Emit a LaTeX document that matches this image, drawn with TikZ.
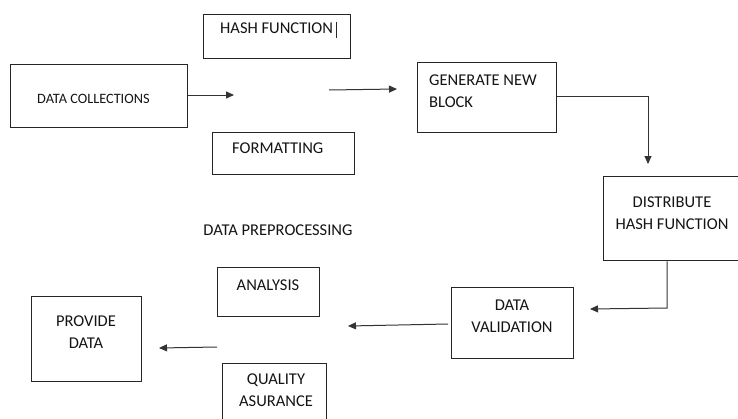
\documentclass[tikz,border=0pt]{standalone}
\usepackage{fontspec}
\setmainfont{Carlito}
\usetikzlibrary{arrows.meta}
\begin{document}
\begin{tikzpicture}[x=1pt,y=-1pt,
  box/.style={draw=black!85, line width=1.4pt, inner sep=0pt, anchor=north west},
  txt/.style={font=\fontsize{16.5}{21.5}\selectfont, text=black!92, inner sep=0pt, align=center},
  conn/.style={draw=black!80, line width=1pt},
  arr/.style={conn, -{Triangle[length=8pt,width=7pt]}}]
\useasboundingbox (0,0) rectangle (738,418);
\clip (0,0) rectangle (738,418);

% boxes
\node[box, minimum width=147pt, minimum height=44pt] (hash) at (203,14) {};
\node[box, minimum width=177pt, minimum height=63pt] (dc) at (10,64) {};
\node[box, minimum width=142pt, minimum height=42pt] (fmt) at (212,132) {};
\node[box, minimum width=139pt, minimum height=70pt] (gnb) at (417,62) {};
\node[box, minimum width=160pt, minimum height=84pt] (dhf) at (603,176) {};
\node[box, minimum width=122pt, minimum height=71pt] (dv) at (451,287) {};
\node[box, minimum width=102pt, minimum height=49pt] (ana) at (217,267) {};
\node[box, minimum width=104pt, minimum height=70pt] (qa) at (222,363) {};
\node[box, minimum width=110pt, minimum height=85pt] (pd) at (31,296) {};

% texts
\node[txt, anchor=north west] (hash-t) at (220,23) {HASH FUNCTION};
\draw[black!85, line width=0.8pt] (336,22) -- (336,38);
\node[txt, font=\fontsize{14.3}{20}\selectfont, anchor=base west] (dc-t) at (37,103) {DATA COLLECTIONS};
\node[txt, anchor=north west] (fmt-t) at (232,143) {FORMATTING};
\node[txt, anchor=north west, align=left] (gnb-t) at (429,75) {GENERATE NEW\\BLOCK};
\node[txt, anchor=north] (dhf-t) at (672,197) {DISTRIBUTE\\HASH FUNCTION};
\node[txt, anchor=north] (dv-t) at (512,300) {DATA\\VALIDATION};
\node[txt, anchor=north] (ana-t) at (268,280) {ANALYSIS};
\node[txt, anchor=north] (qa-t) at (276,374) {QUALITY\\ASURANCE};
\node[txt, anchor=north] (pd-t) at (86,316) {PROVIDE\\DATA};
\node[txt, anchor=north] (prep) at (278,225) {DATA PREPROCESSING};

% connector end points
\coordinate (c1) at (234,95);
\coordinate (c2s) at (329,90);
\coordinate (c2e) at (397,89);
\coordinate (c3) at (648,96);
\coordinate (c3e) at (648,164);
\coordinate (c4) at (667,308);
\coordinate (c4e) at (590,309);
\coordinate (c5e) at (348,326);
\coordinate (c6s) at (217,347);
\coordinate (c6e) at (159,348);

% connectors
\draw[arr] (dc.east |- c1) -- (c1);
\draw[arr] (c2s) -- (c2e);
\draw[arr] (gnb.east |- c3) -- (c3) -- (c3e);
\draw[arr] (dhf.south -| c4) -- (c4) -- (c4e);
\draw[arr] ([xshift=-3pt]dv.west |- 0,324) -- (c5e);
\draw[arr] (c6s) -- (c6e);
\end{tikzpicture}
\end{document}
